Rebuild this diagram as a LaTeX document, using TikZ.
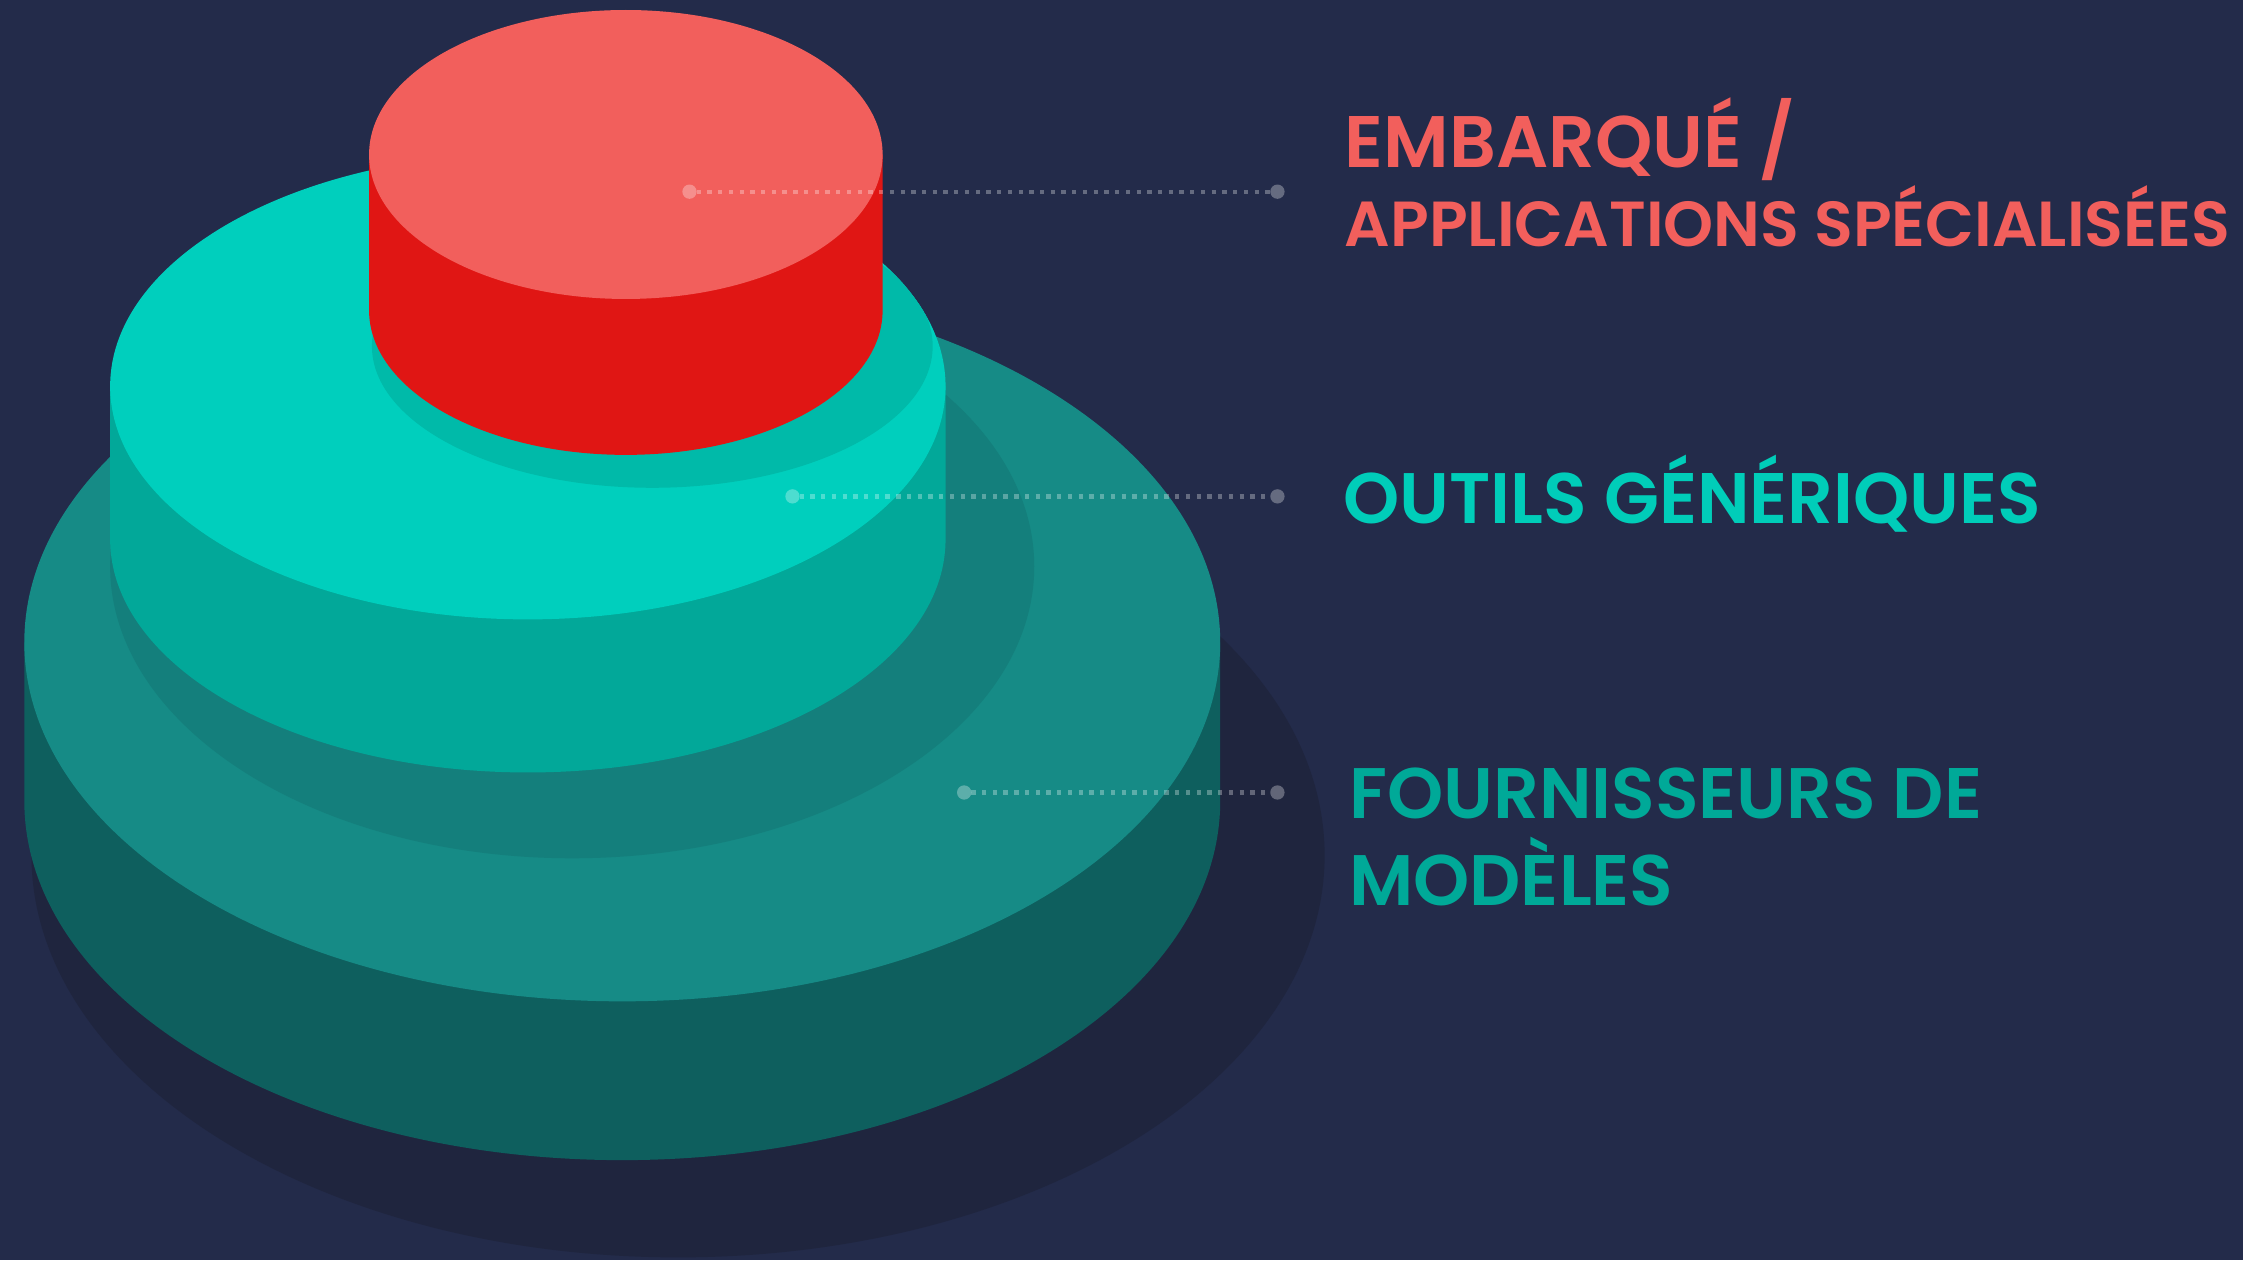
\documentclass[tikz,border=0pt]{standalone}
\usepackage{fontspec}
\newfontfamily\labelfont{Poppins SemiBold}
\definecolor{navy}{HTML}{232B4A}
\definecolor{navyshade}{HTML}{1F253E}
\definecolor{basetop}{HTML}{168B86}
\definecolor{baseside}{HTML}{0E5F5E}
\definecolor{basering}{HTML}{147F7C}
\definecolor{midtop}{HTML}{00CFBD}
\definecolor{midside}{HTML}{02A899}
\definecolor{midring}{HTML}{00BAA9}
\definecolor{redtop}{HTML}{F25F5C}
\definecolor{redside}{HTML}{E01614}
\definecolor{txtred}{HTML}{F25F5C}
\definecolor{txtturq}{HTML}{00CDB9}
\definecolor{txtteal}{HTML}{00A998}
\tikzset{
  leader/.style={white,opacity=.3,line width=3pt,dash pattern=on 3pt off 4.5pt,shorten <=5pt,shorten >=5pt},
  dotmark/.style={fill=white,opacity=.3},
  label/.style={anchor=base west,inner sep=0pt}
}
\begin{document}
\begin{tikzpicture}[x=1pt,y=1pt]
\useasboundingbox (0,0) rectangle (1568,881);
\fill[navy] (0,0) rectangle (1568,881);
% shadow under the stack
\fill[navyshade] (474,283) ellipse[x radius=452,y radius=281];
% base layer
\fill[baseside] (17,432) -- (17,321) arc[start angle=180,end angle=360,x radius=418,y radius=251] -- (853,432) -- cycle;
\fill[basetop] (435,432) ellipse[x radius=418,y radius=251];
\fill[basering] (400,485) ellipse[x radius=323,y radius=204];
% middle layer
\fill[midside] (77,611) -- (77,504) arc[start angle=180,end angle=360,x radius=292,y radius=163] -- (661,611) -- cycle;
\fill[midtop] (369,611) ellipse[x radius=292,y radius=163];
\begin{scope}
\clip (369,611) ellipse[x radius=292,y radius=163];
\fill[midring] (456,639) ellipse[x radius=196,y radius=99];
\end{scope}
% top layer
\fill[redside] (258,773) -- (258,664) arc[start angle=180,end angle=360,x radius=179.5,y radius=101] -- (617,773) -- cycle;
\fill[redtop] (437.5,773) ellipse[x radius=179.5,y radius=101];
% leaders
\coordinate (topA) at (482,747);
\coordinate (topB) at (893,747);
\coordinate (midA) at (554,534);
\coordinate (midB) at (893,534);
\coordinate (baseA) at (674,327);
\coordinate (baseB) at (893,327);
\foreach \a/\b in {topA/topB,midA/midB,baseA/baseB}{
  \draw[leader] (\a) -- (\b);
  \fill[dotmark] (\a) circle (5);
  \fill[dotmark] (\b) circle (5);
}
% labels
\node[label,text=txtred,font=\labelfont\fontsize{51}{60}\selectfont] (embed) at (940,764) {EMBARQUÉ /};
\node[label,text=txtred,font=\labelfont\fontsize{44.5}{54}\selectfont] (apps) at (940,709) {APPLICATIONS SPÉCIALISÉES};
\node[label,text=txtturq,font=\labelfont\fontsize{50}{60}\selectfont] (tools) at (939,515) {OUTILS GÉNÉRIQUES};
\node[label,text=txtteal,font=\labelfont\fontsize{50}{60}\selectfont] (prov) at (943,309) {FOURNISSEURS DE};
\node[label,text=txtteal,font=\labelfont\fontsize{50}{60}\selectfont] (models) at (943,248) {MODÈLES};
\end{tikzpicture}
\end{document}
